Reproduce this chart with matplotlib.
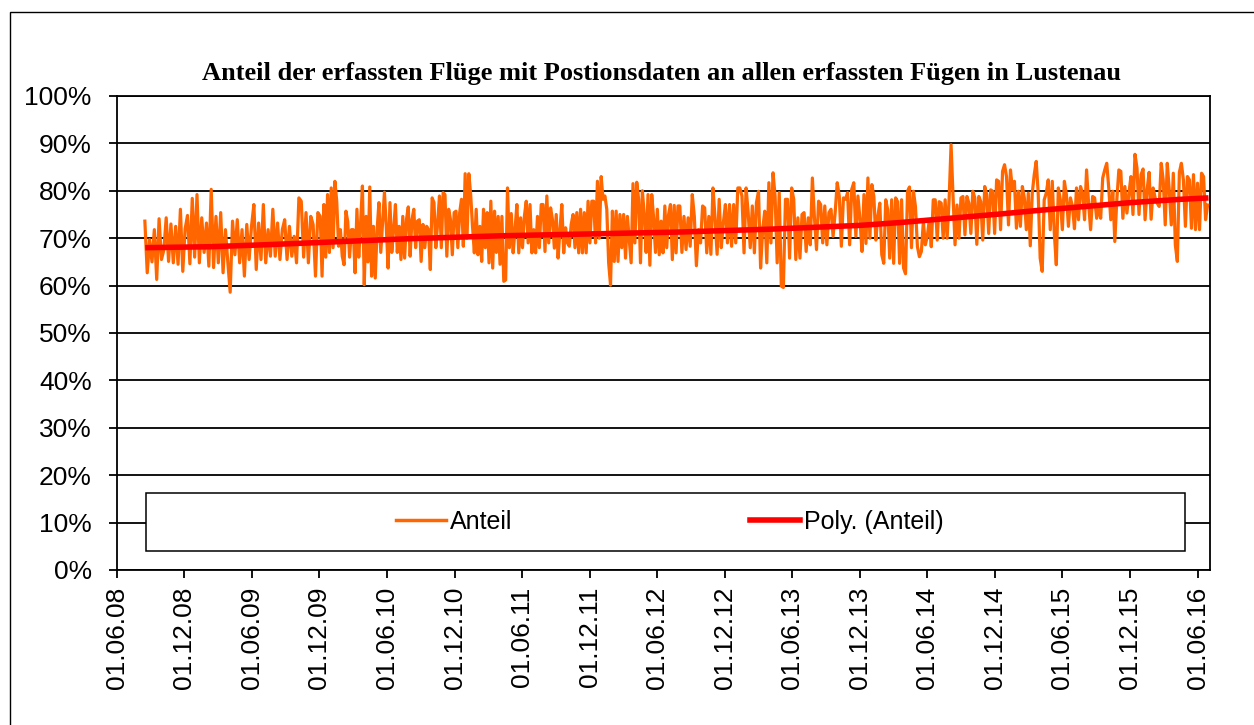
import numpy as np
import pandas as pd
import matplotlib
matplotlib.use("Agg")
import matplotlib.pyplot as plt
import matplotlib.dates as mdates
from matplotlib.ticker import PercentFormatter
from matplotlib.patches import Rectangle
from matplotlib.lines import Line2D

# Anteil (%), abschnittsweise (Spitzen/Taeler)
anteil_a = [73.6, 62.7, 69.7, 65.0, 71.8, 61.3, 74.1, 65.5, 67.5, 74.3, 65.1, 73.0, 64.8, 72.5, 64.5,
            76.1, 63.0, 72.0, 74.8, 64.6, 78.4, 66.0, 79.2, 64.8, 74.3, 67.0, 73.2, 64.1, 80.3, 63.8,
            74.6, 64.8, 75.4, 62.7, 71.8, 65.0, 58.6, 73.6, 66.5, 73.9, 64.8, 71.8, 62.0, 72.9, 65.5,
            72.5, 77.1, 63.4, 73.2, 65.5, 77.1, 64.8, 71.8, 66.2, 76.1, 66.2, 73.2, 65.5, 71.8, 73.9,
            65.5, 72.5, 66.2, 70.4, 64.8, 78.5, 77.8, 66.0, 75.4, 64.8, 74.6, 72.9, 62.0, 75.4]
anteil_b = [74.6, 62.0, 77.1, 66.0, 79.2, 67.0, 80.6, 68.0, 82.0, 77.8, 68.3, 71.8, 66.2, 64.4, 75.7,
            73.5, 66.0, 71.8, 71.8, 62.7, 76.1, 66.0, 73.2, 81.0, 60.2, 74.6, 65.0, 80.8, 62.0, 72.5,
            61.6, 71.8, 77.5, 67.0, 73.2, 79.7, 72.5, 63.7, 77.5, 67.0, 71.8, 77.1, 67.0, 72.5, 65.5,
            74.6, 65.8, 73.9, 76.6, 66.2, 73.9, 76.1, 68.0, 73.6, 73.9, 65.1, 72.9, 68.0, 72.5, 71.8,
            63.4, 78.5, 77.5, 68.0, 73.2, 78.9, 68.0, 79.6, 79.2, 66.2, 76.1, 73.9, 66.5, 75.4, 75.7,
            68.0, 75.4, 78.2, 68.3, 83.6, 70.0, 83.6, 79.2, 72.5, 66.9, 76.1, 66.5, 72.5, 65.1, 76.1,
            68.0, 75.4, 64.8, 77.8, 63.7, 75.7, 67.0, 74.6]
anteil_c = [64.5, 74.6, 60.9, 61.2, 80.6, 68.0, 75.2, 66.9, 71.8, 77.1, 66.9, 74.3, 68.0, 74.6, 77.8,
            69.0, 77.1, 66.9, 71.8, 66.9, 74.6, 68.0, 77.1, 77.1, 67.2, 78.9, 69.0, 76.4, 73.9, 67.9,
            75.0, 65.8, 71.8, 77.1, 66.9, 72.2, 69.0, 68.3, 72.9, 75.0, 68.0, 75.4, 66.9, 76.1, 66.9,
            75.4, 66.9, 77.8, 69.0, 77.8, 77.8, 69.0, 82.0, 70.0, 83.0, 78.2, 78.9, 76.1, 64.8, 60.1,
            75.7, 65.1, 75.7, 65.1, 75.0, 68.0, 75.0, 65.8, 74.6, 69.7, 64.8, 81.5, 69.0, 81.8, 78.2,
            64.8, 80.0, 75.0, 67.0, 79.2, 64.3, 79.2, 74.3, 67.0, 76.1, 66.5, 73.6, 66.9, 76.8, 68.0,
            75.0, 77.1, 65.5, 76.9, 66.9, 76.8]
anteil_d = [76.8, 67.0, 74.6, 67.6, 74.3, 68.3, 79.2, 74.6, 64.2, 71.8, 69.0, 76.8, 76.4, 66.9, 74.6,
            66.6, 80.6, 74.3, 66.6, 78.2, 68.0, 73.2, 77.1, 69.0, 77.1, 68.3, 77.1, 69.0, 80.6, 80.6,
            78.9, 66.9, 80.6, 75.4, 68.0, 76.8, 66.9, 77.5, 79.9, 63.7, 71.8, 75.7, 64.8, 81.7, 69.0,
            83.8, 78.9, 64.8, 79.6, 59.9, 59.6, 78.2, 78.2, 65.8, 80.6, 78.2, 65.5, 74.3, 65.8, 75.0,
            75.4, 67.2, 74.3, 68.6, 82.7, 74.3, 67.6, 77.8, 77.1, 69.0, 76.8, 68.6, 75.4, 76.1, 70.4,
            75.4, 81.7, 78.9, 68.3, 78.5, 78.2, 79.6, 68.6, 80.3, 81.7, 70.4, 78.9]
anteil_e = [73.9, 67.2, 79.2, 68.9, 82.7, 70.0, 81.3, 78.8, 69.6, 74.6, 77.4, 66.5, 64.7, 78.1, 76.0,
            65.8, 78.1, 64.7, 78.5, 77.7, 64.7, 78.1, 63.7, 62.5, 79.9, 80.8, 68.0, 79.9, 76.7, 68.2,
            66.1, 67.2, 73.5, 68.6, 70.4, 73.9, 68.2, 78.1, 78.1, 69.6, 77.7, 77.4, 70.0, 78.1, 70.0,
            78.1, 89.7, 78.8, 68.6, 77.0, 70.0, 78.5, 78.8, 70.7, 78.8, 77.4, 71.0, 79.9, 78.5, 68.7,
            78.8, 77.7, 69.6, 80.9, 79.2, 71.0, 80.2, 79.9, 71.0, 82.3, 82.0, 71.8, 84.1, 85.5, 83.0,
            72.8, 84.4, 80.2, 82.0, 72.1, 79.9, 72.5, 80.9, 78.5, 71.8, 79.5, 68.4, 79.5, 83.4, 86.2,
            79.5]
anteil_f = [65.8, 63.0, 78.1, 79.5, 82.3, 71.8, 82.0, 71.1, 64.4, 80.6, 78.1, 71.8, 82.0, 79.2, 72.5,
            78.5, 76.7, 72.0, 80.6, 73.9, 80.9, 79.5, 73.9, 84.4, 77.4, 71.8, 78.8, 78.5, 74.2, 76.7,
            74.2, 82.7, 84.4, 85.8, 80.6, 73.9, 79.9, 69.3, 78.1, 84.4, 84.1, 74.2, 80.9, 75.3, 79.5,
            83.0, 75.0, 87.7, 84.8, 75.0, 83.4, 84.6, 73.9, 80.2, 83.9, 74.0, 80.6, 78.5, 77.4, 76.7,
            85.8, 82.3, 72.8, 85.8, 80.2, 72.8, 83.7, 68.6, 65.1, 83.9, 85.8, 82.3, 72.5, 83.0, 82.3,
            72.1, 83.4, 71.8, 81.6, 71.8, 83.7, 83.0, 73.9, 77.0]
# Grenzen der Abschnitte
abschnitt_grenzen = ["2008-08-16", "2009-12-03", "2011-04-03", "2012-08-01",
                     "2013-12-01", "2015-04-02", "2016-07-03"]

# Poly. Trendlinie
trend_datum = ["2008-08-17", "2009-02-08", "2009-07-02", "2009-12-03", "2010-08-03", "2011-04-03",
               "2011-12-02", "2012-08-01", "2013-04-01", "2013-12-01", "2014-03-19", "2014-08-01",
               "2014-12-14", "2015-04-02", "2015-07-19", "2015-12-01", "2016-04-15", "2016-06-30"]
trend_wert = [68.0, 68.2, 68.6, 69.1, 69.9, 70.5, 70.9, 71.3, 71.9, 72.7, 73.3, 74.2,
              75.1, 75.9, 76.6, 77.5, 78.2, 78.5]

x_ticks = pd.date_range("2008-06-01", "2016-06-01", freq="6MS")

chunks = [anteil_a, anteil_b, anteil_c, anteil_d, anteil_e, anteil_f]
dates, werte = [], []
for i, ch in enumerate(chunks):
    d = pd.date_range(abschnitt_grenzen[i], abschnitt_grenzen[i + 1], periods=len(ch) + 1)[:-1]
    dates.extend(d)
    werte.extend(ch)

plt.rcParams['font.family'] = ['Liberation Sans', 'DejaVu Sans']

fig = plt.figure(figsize=(12.54, 7.25), dpi=100)
ax = fig.add_axes([0.0931, 0.2138, 0.9649 - 0.0931, 0.8676 - 0.2138])

ax.plot(dates, werte, color='#FF6600', lw=2.3, zorder=3)
ax.plot(pd.to_datetime(trend_datum), trend_wert, color='#FF0000', lw=4, zorder=4,
        solid_capstyle='butt')

ax.set_ylim(0, 100)
ax.set_yticks(np.arange(0, 101, 10))
ax.yaxis.set_major_formatter(PercentFormatter(xmax=100, decimals=0))
ax.set_xlim(pd.Timestamp("2008-06-01"), pd.Timestamp("2016-07-04"))
ax.set_xticks(x_ticks)
ax.xaxis.set_major_formatter(mdates.DateFormatter('%d.%m.%y'))
plt.setp(ax.get_xticklabels(), rotation=90, va='top', ha='center')

ax.tick_params(axis='both', direction='out', length=6, width=1.3, color='black', labelsize=19)
ax.tick_params(axis='y', pad=12)
ax.tick_params(axis='x', pad=6)
ax.yaxis.grid(True, color='black', lw=1.3)
for s in ax.spines.values():
    s.set_color('black')
    s.set_linewidth(1.3)

# Legendenrahmen
ax.add_patch(Rectangle((0.0268, 0.0401), 0.9771 - 0.0268, 0.1624 - 0.0401, transform=ax.transAxes,
                       facecolor='white', edgecolor='black', lw=1.1, zorder=5))
handles = [Line2D([], [], color='#FF6600', lw=2.5), Line2D([], [], color='#FF0000', lw=4)]
leg = ax.legend(handles, ['Anteil', 'Poly. (Anteil)'], ncol=2, frameon=False, fontsize=18,
                loc='center', bbox_to_anchor=(0.506, 0.1013), handlelength=2.0, handletextpad=0.15,
                columnspacing=9.5)
leg.set_zorder(6)

fig.text(661 / 1254, (725 - 80) / 725,
         'Anteil der erfassten Flüge mit Postionsdaten an allen erfassten Fügen in Lustenau',
         ha='center', va='baseline', fontsize=19, fontweight='bold', family='Liberation Serif')

# aeusserer Diagrammrahmen
fig.add_artist(Rectangle((10 / 1254, -0.1), 2, (725 - 12) / 725 + 0.1, transform=fig.transFigure,
                         fill=False, edgecolor='black', lw=1.0))

fig.savefig('out.png', dpi=100)
